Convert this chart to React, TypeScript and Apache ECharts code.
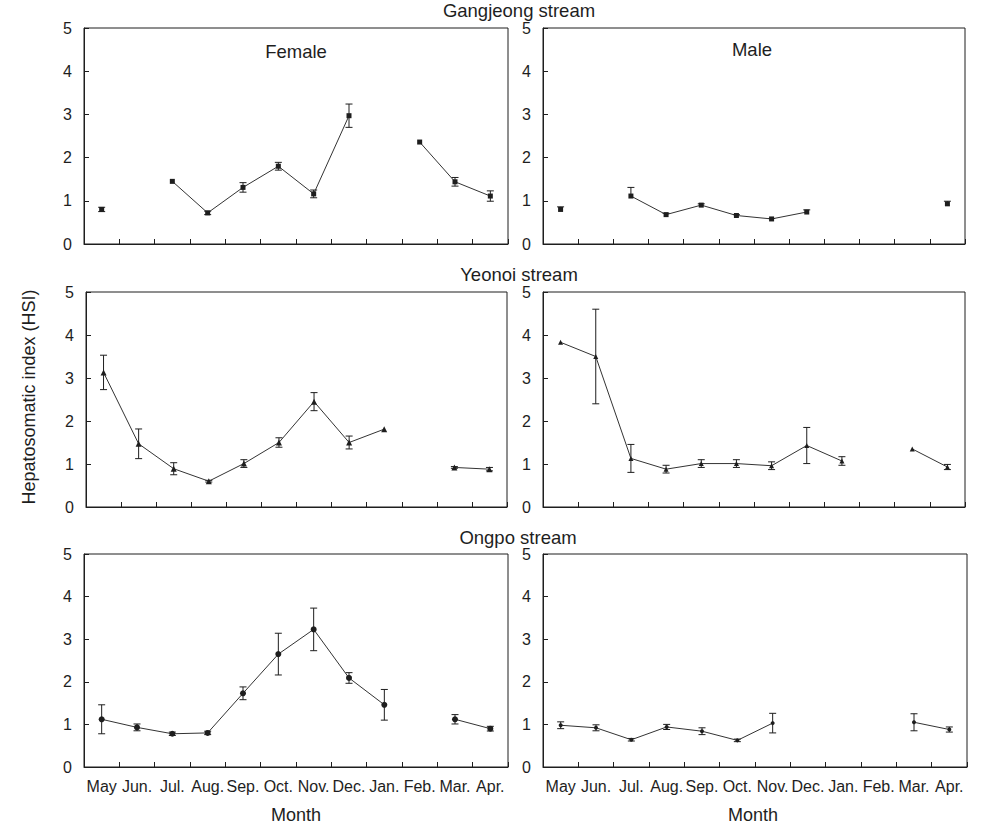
import React, { useEffect, useRef } from "react";
import * as echarts from "echarts";

const months = ["May", "Jun.", "Jul.", "Aug.", "Sep.", "Oct.", "Nov.", "Dec.", "Jan.", "Feb.", "Mar.", "Apr."];
const yMin = 0;
const yMax = 5;
const yStep = 1;

const streamTitles = ["Gangjeong stream", "Yeonoi stream", "Ongpo stream"];
const sexLabels = ["Female", "Male"];

// Gangjeong stream
const gangFemaleMean = [0.8, null, 1.45, 0.72, 1.31, 1.8, 1.16, 2.97, null, 2.36, 1.44, 1.11];
const gangFemaleErr = [0.05, null, 0, 0.04, 0.11, 0.09, 0.09, 0.27, null, 0, 0.1, 0.12];
const gangMaleMean = [0.8, null, 1.11, 0.68, 0.9, 0.66, 0.58, 0.74, null, null, null, 0.93];
const gangMaleErr = [0.06, null, 0.2, 0.03, 0.03, 0.02, 0.01, 0.05, null, null, null, 0.06];

// Yeonoi stream
const yeonFemaleMean = [3.13, 1.47, 0.89, 0.6, 1.01, 1.5, 2.45, 1.5, 1.81, null, 0.92, 0.88];
const yeonFemaleErr = [0.4, 0.345, 0.14, 0.02, 0.09, 0.11, 0.21, 0.15, 0, null, 0.02, 0.04];
const yeonMaleMean = [3.83, 3.5, 1.13, 0.88, 1.01, 1.01, 0.96, 1.43, 1.07, null, 1.35, 0.93];
const yeonMaleErr = [0, 1.1, 0.325, 0.09, 0.09, 0.09, 0.09, 0.42, 0.1, null, 0, 0.06];

// Ongpo stream
const ongFemaleMean = [1.12, 0.93, 0.78, 0.8, 1.73, 2.65, 3.23, 2.09, 1.46, null, 1.12, 0.9];
const ongFemaleErr = [0.34, 0.08, 0.04, 0.04, 0.15, 0.49, 0.5, 0.125, 0.36, null, 0.11, 0.055];
const ongMaleMean = [0.98, 0.92, 0.64, 0.94, 0.84, 0.625, 1.03, null, null, null, 1.05, 0.88];
const ongMaleErr = [0.08, 0.07, 0.03, 0.06, 0.08, 0.03, 0.23, null, null, null, 0.2, 0.06];

const FONT = "'Liberation Sans', Arial, Helvetica, sans-serif";
const INK = "#1e1e1e";

type Panel = {
  mean: (number | null)[];
  err: (number | null)[];
  oneSided: boolean;
  symbol: string;
  symbolSize: number;
  rect: [number, number, number, number]; // left, top, width, height
  showX: boolean;
};

const panels: Panel[] = [
  { mean: gangFemaleMean, err: gangFemaleErr, oneSided: false, symbol: "rect", symbolSize: 5, rect: [84, 28, 424, 216], showX: false },
  { mean: gangMaleMean, err: gangMaleErr, oneSided: true, symbol: "rect", symbolSize: 5, rect: [543, 28, 422, 216], showX: false },
  { mean: yeonFemaleMean, err: yeonFemaleErr, oneSided: false, symbol: "triangle", symbolSize: 6, rect: [86, 292, 421, 215], showX: false },
  { mean: yeonMaleMean, err: yeonMaleErr, oneSided: false, symbol: "triangle", symbolSize: 5, rect: [543, 292, 422, 215], showX: false },
  { mean: ongFemaleMean, err: ongFemaleErr, oneSided: false, symbol: "circle", symbolSize: 6, rect: [84, 554, 424, 213], showX: true },
  { mean: ongMaleMean, err: ongMaleErr, oneSided: false, symbol: "circle", symbolSize: 4, rect: [543, 554, 424, 213], showX: true },
];

export default function App() {
  const ref = useRef<HTMLDivElement>(null);

  useEffect(() => {
    if (!ref.current) return;
    const chart = echarts.init(ref.current, null, { renderer: "svg" });

    const grid: any[] = [];
    const xAxis: any[] = [];
    const yAxis: any[] = [];
    const series: any[] = [];

    panels.forEach((p, i) => {
      const [l, t, w, h] = p.rect;
      grid.push({ left: l, top: t, width: w, height: h, show: true, borderColor: INK, borderWidth: 1, backgroundColor: "transparent" });
      xAxis.push({
        type: "category",
        gridIndex: i,
        data: months,
        boundaryGap: true,
        axisLine: { show: true, lineStyle: { color: INK, width: 1 } },
        axisTick: { show: true, inside: true, length: 5, lineStyle: { color: INK, width: 1 } },
        axisLabel: {
          show: p.showX,
          interval: 0,
          margin: 11,
          fontSize: 16,
          fontFamily: FONT,
          color: INK,
        },
        splitLine: { show: false },
      });
      yAxis.push({
        type: "value",
        gridIndex: i,
        min: yMin,
        max: yMax,
        interval: yStep,
        axisLine: { show: true, lineStyle: { color: INK, width: 1 } },
        axisTick: { show: true, inside: true, length: 5, lineStyle: { color: INK, width: 1 } },
        axisLabel: { margin: 12, fontSize: 16, fontFamily: FONT, color: INK },
        splitLine: { show: false },
      });

      series.push({
        type: "line",
        xAxisIndex: i,
        yAxisIndex: i,
        data: p.mean.map((v) => (v === null ? "-" : v)),
        connectNulls: false,
        symbol: p.symbol,
        symbolSize: p.symbolSize,
        showSymbol: true,
        showAllSymbol: true,
        lineStyle: { color: "#333", width: 1 },
        itemStyle: { color: INK },
        z: 3,
      });

      const errData: number[][] = [];
      p.mean.forEach((m, k) => {
        const e = p.err[k];
        if (m === null || e === null || e <= 0) return;
        errData.push([k, p.oneSided ? m : m - e, m + e]);
      });
      const oneSided = p.oneSided;
      series.push({
        type: "custom",
        xAxisIndex: i,
        yAxisIndex: i,
        data: errData,
        z: 2,
        renderItem: (params: any, api: any) => {
          const x = api.value(0);
          const lo = api.coord([x, api.value(1)]);
          const hi = api.coord([x, api.value(2)]);
          const cw = 3.5;
          const st = { stroke: INK, lineWidth: 1 };
          const children: any[] = [
            { type: "line", shape: { x1: lo[0], y1: lo[1], x2: hi[0], y2: hi[1] }, style: st },
            { type: "line", shape: { x1: hi[0] - cw, y1: hi[1], x2: hi[0] + cw, y2: hi[1] }, style: st },
          ];
          if (!oneSided) {
            children.push({ type: "line", shape: { x1: lo[0] - cw, y1: lo[1], x2: lo[0] + cw, y2: lo[1] }, style: st });
          }
          return { type: "group", children };
        },
      });
    });

    const textStyle = (s: string, size: number) => ({
      text: s,
      fontSize: size,
      fontFamily: FONT,
      fill: INK,
      textAlign: "center",
      textVerticalAlign: "middle",
    });

    const graphic: any[] = [
      { type: "text", x: 519, y: 10, style: textStyle(streamTitles[0], 18.5) },
      { type: "text", x: 519, y: 274, style: textStyle(streamTitles[1], 18.5) },
      { type: "text", x: 518, y: 537, style: textStyle(streamTitles[2], 18.5) },
      { type: "text", x: 296, y: 51, style: textStyle(sexLabels[0], 18.5) },
      { type: "text", x: 752, y: 49, style: textStyle(sexLabels[1], 18.5) },
      { type: "text", x: 296, y: 815, style: textStyle("Month", 18) },
      { type: "text", x: 753, y: 815, style: textStyle("Month", 18) },
      { type: "text", x: 29, y: 397, rotation: Math.PI / 2, style: textStyle("Hepatosomatic index (HSI)", 18) },
    ];

    chart.setOption({
      animation: false,
      backgroundColor: "#ffffff",
      grid,
      xAxis,
      yAxis,
      series,
      graphic,
    });

    return () => chart.dispose();
  }, []);

  return <div ref={ref} style={{ position: "absolute", left: 0, top: 0, width: 1001, height: 840 }} />;
}
